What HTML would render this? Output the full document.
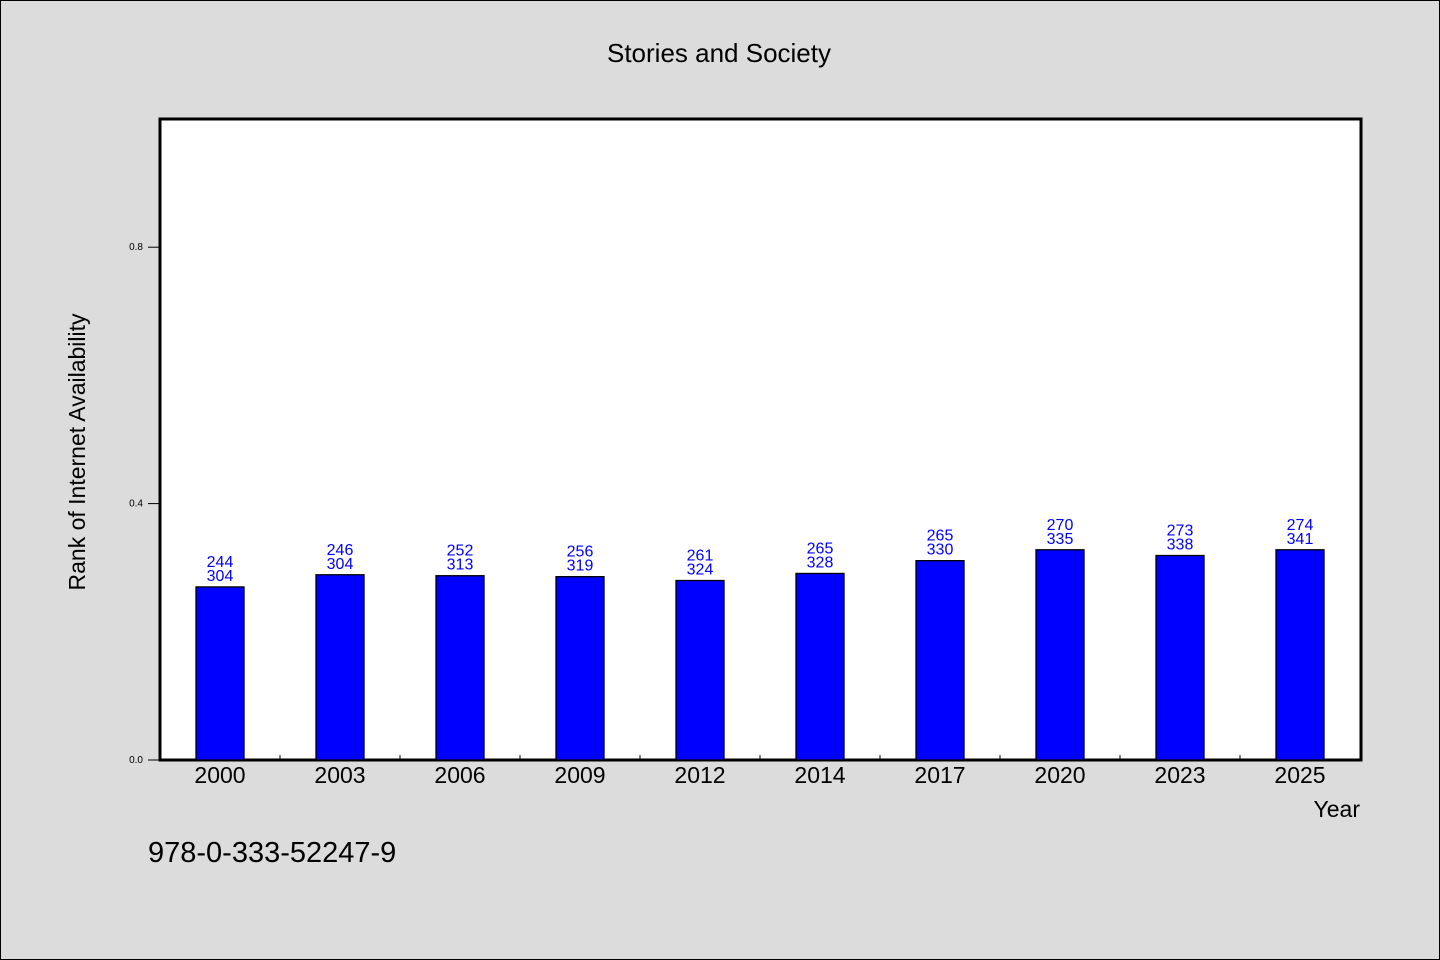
<!DOCTYPE html>
<html><head><meta charset="utf-8"><style>
body{margin:0;background:#dcdcdc;}
svg{display:block;font-family:"WenQuanYi Zen Hei","Liberation Sans",sans-serif;}
</style></head><body>
<svg id="chart" width="1440" height="960">
<rect x="0.5" y="0.5" width="1439" height="959" fill="#dcdcdc" stroke="#000"/>
<text x="719" y="62" text-anchor="middle" font-size="26">Stories and Society</text>
<rect x="160" y="119" width="1201" height="641" fill="#fff" stroke="#000" stroke-width="3"/>
<g id="bars"></g>
<g id="axes"></g>
<text transform="translate(85,452) rotate(-90)" text-anchor="middle" font-size="23">Rank of Internet Availability</text>
<text x="1360" y="817" text-anchor="end" font-size="23">Year</text>
<text x="148" y="862" font-size="29">978-0-333-52247-9</text>
</svg>
<script>
const categories=["2000","2003","2006","2009","2012","2014","2017","2020","2023","2025"];
const values=[0.270,0.289,0.2875,0.286,0.280,0.291,0.311,0.328,0.319,0.328];
const labelTop=["244","246","252","256","261","265","265","270","273","274"];
const labelBottom=["304","304","313","319","324","328","330","335","338","341"];
const yTicks=[0,0.4,0.8];
const yTickLabels=["0.0","0.4","0.8"];
const NS="http://www.w3.org/2000/svg";
const x0=160,bandW=120,y0=760,yScale=641;
const y=v=>y0-v*yScale;
const xc=i=>x0+bandW*(i+0.5);
function mk(tag,attrs,parent){const e=document.createElementNS(NS,tag);for(const k in attrs)e.setAttribute(k,attrs[k]);parent.appendChild(e);return e;}
const bars=document.getElementById('bars'),axes=document.getElementById('axes');
categories.forEach((c,i)=>{
  const r=mk('rect',{x:xc(i)-24,y:y(values[i]),width:48,height:y0-y(values[i]),fill:'#0000ff',stroke:'#000','stroke-width':1.3},bars);
  
  
  const t1=mk('text',{x:xc(i),y:y(values[i])-20,'text-anchor':'middle','font-size':16,fill:'#0000ff'},bars);
  t1.textContent=labelTop[i];
  
  
  const t2=mk('text',{x:xc(i),y:y(values[i])-6,'text-anchor':'middle','font-size':16,fill:'#0000ff'},bars);
  t2.textContent=labelBottom[i];
  
  
  const xl=mk('text',{x:xc(i),y:783,'text-anchor':'middle','font-size':23},axes);
  xl.textContent=c;
  
  
  if(i>0){const tk=mk('line',{x1:x0+bandW*i,x2:x0+bandW*i,y1:y0,y2:y0-5,stroke:'#000'},axes);
  
  }
});
yTicks.forEach((v,i)=>{
  const tk=mk('line',{x1:148,x2:160,y1:y(v),y2:y(v),stroke:'#000'},axes);
  
  
  const tl=mk('text',{x:143,y:y(v)+3,'text-anchor':'end','font-size':10},axes);
  tl.textContent=yTickLabels[i];
  
  
});
</script>
</body></html>
